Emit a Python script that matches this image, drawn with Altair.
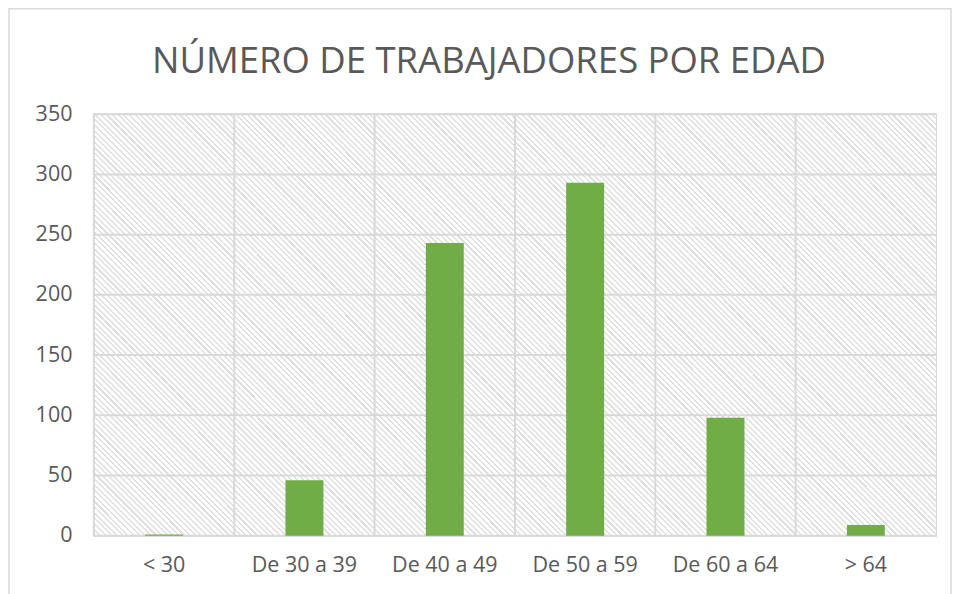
import altair as alt
import pandas as pd

categories = ["< 30", "De 30 a 39", "De 40 a 49", "De 50 a 59", "De 60 a 64", "> 64"]
workers = [1, 46, 243, 293, 98, 9]
y_ticks = [0, 50, 100, 150, 200, 250, 300, 350]

W, H = 843, 422
GRID = "#d9d9d9"
TEXT = "#595959"
FONT = "Open Sans"

df = pd.DataFrame({"cat": categories, "value": workers})
ticks_df = pd.DataFrame({"t": y_ticks})

# diagonal hatch as a striped linear gradient (style only)
N = 225
stops = []
for k in range(N):
    t0 = k / N
    t1 = (k + 0.38) / N
    t2 = (k + 1) / N
    stops += [
        alt.GradientStop(offset=t0, color="#e0e0e0"),
        alt.GradientStop(offset=t1, color="#e0e0e0"),
        alt.GradientStop(offset=t1, color="#ffffff"),
        alt.GradientStop(offset=t2, color="#ffffff"),
    ]
hatch = alt.LinearGradient(gradient="linear", stops=stops, x1=0, y1=1, x2=1.2, y2=0.4)

xscale = alt.Scale(domain=categories, paddingInner=0, paddingOuter=0)
yscale = alt.Scale(domain=[0, 350], nice=False)

xaxis = alt.Axis(
    title=None, labelAngle=0, ticks=False, domain=False, grid=False,
    labelFont=FONT, labelFontSize=21.5, labelColor=TEXT, labelPadding=19,
)
yaxis = alt.Axis(
    title=None, values=y_ticks, ticks=False, domain=False, grid=False,
    labelFont=FONT, labelFontSize=21.5, labelColor=TEXT, labelPadding=22,
)

one = alt.Data(values=[{"a": 1}])

bg = alt.Chart(one).mark_rect(fill=hatch, strokeWidth=0).encode(
    x=alt.value(0), x2=alt.value(W), y=alt.value(0), y2=alt.value(H)
)

frame = alt.Chart(one).mark_rect(fill=None, stroke=GRID, strokeWidth=1.5, clip=False).encode(
    x=alt.value(-85), x2=alt.value(858), y=alt.value(-105.5), y2=alt.value(H + 80)
)

hgrid = alt.Chart(ticks_df).mark_rule(color=GRID, strokeWidth=2).encode(
    y=alt.Y("t:Q", scale=yscale, axis=yaxis)
)

vgrid = alt.Chart(df).mark_rule(color=GRID, strokeWidth=2).encode(
    x=alt.X("cat:N", sort=categories, scale=xscale, bandPosition=0, axis=xaxis)
)

bars = alt.Chart(df).mark_bar(color="#70ad47", size=38).encode(
    x=alt.X("cat:N", sort=categories, scale=xscale, axis=xaxis),
    y=alt.Y("value:Q", scale=yscale, axis=yaxis),
)

chart = (
    alt.layer(bg, hgrid, vgrid, bars, frame)
    .properties(
        width=W,
        height=H,
        autosize=alt.AutoSizeParams(type="none"),
        padding={"left": 86, "top": 106, "right": 16, "bottom": 58},
        title=alt.TitleParams(
            "NÚMERO DE TRABAJADORES POR EDAD",
            font=FONT, fontSize=36.5, fontWeight="normal", color=TEXT,
            anchor="middle", frame="bounds", baseline="alphabetic",
            offset=-101.25, dx=9,
        ),
    )
    .configure_view(stroke=GRID, strokeWidth=2)
)

chart.save("out.html", embed_options={"renderer": "svg", "actions": False})
